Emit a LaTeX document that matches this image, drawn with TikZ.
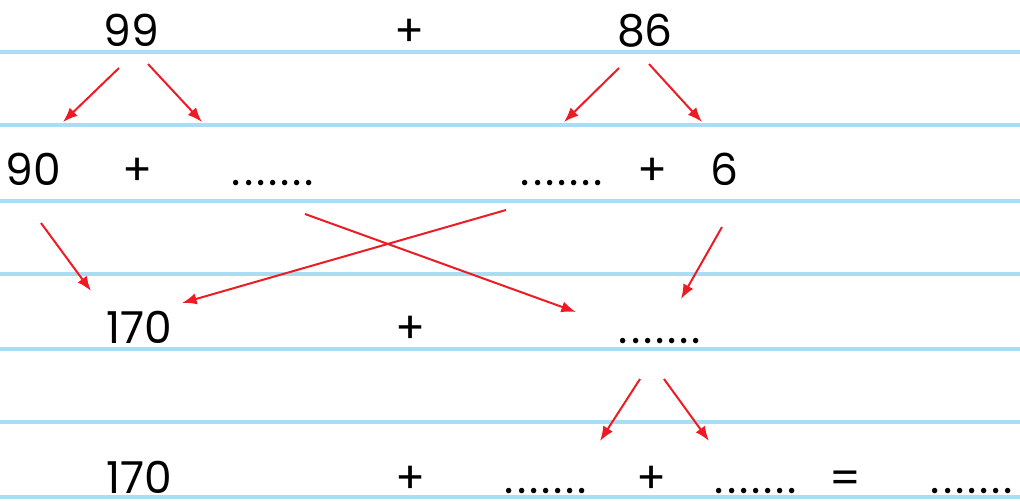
\documentclass[tikz,border=0pt]{standalone}
\usepackage{fontspec}
\setmainfont{Poppins}
\usetikzlibrary{arrows.meta}
\definecolor{rule}{HTML}{A9DDF4}
\definecolor{arr}{HTML}{ED1C24}
\newcommand{\blankdots}{.\kern2.2pt.\kern2.2pt.\kern2.2pt.\kern2.2pt.\kern2.2pt.\kern2.2pt.}
\tikzset{
  ruled/.style={rule, line width=2.3pt},
  txt/.style={anchor=base, inner sep=0pt, text depth=0pt, font=\fontsize{33}{36}\selectfont},
  redarrow/.style={arr, line width=1.5pt, -{Latex[length=11pt,width=8.5pt]}}
}
\begin{document}
\begin{tikzpicture}[x=0.75pt,y=-0.75pt]
\useasboundingbox (0,0) rectangle (1020,500);
% ruled lines
\foreach \yy in {52,125,201,274,349,422,497}
  \draw[ruled] (0,\yy) -- (1020,\yy);
% row 1
\node[txt] (a99) at (131,46) {99};
\node[txt] (p1) at (410,46) {+};
\node[txt] (a86) at (645,46) {86};
% row 2
\node[txt] (b90) at (33,185) {90};
\node[txt] (p2) at (138,185) {+};
\node[txt] (d1) at (273,185) {\blankdots};
\node[txt] (d2) at (562,185) {\blankdots};
\node[txt] (p3) at (653,185) {+};
\node[txt] (b6) at (724,185) {6};
% row 3
\node[txt] (c170) at (139,343) {170};
\node[txt] (p4) at (411,343) {+};
\node[txt] (d3) at (660,343) {\blankdots};
% row 4
\node[txt] (e170) at (139,493) {170};
\node[txt] (p5) at (411,493) {+};
\node[txt] (d4) at (546,493) {\blankdots};
\node[txt] (p6) at (652,493) {+};
\node[txt] (d5) at (756,493) {\blankdots};
\node[txt] (eq) at (845,493) {=};
\node[txt] (d6) at (972,493) {\blankdots};
% arrow end points
\coordinate (s1) at (119,68);  \coordinate (t1) at (63,122);
\coordinate (s2) at (148,64);  \coordinate (t2) at (202,122);
\coordinate (s3) at (619,68);  \coordinate (t3) at (564,122);
\coordinate (s4) at (649,64);  \coordinate (t4) at (702,122);
\coordinate (s5) at (41,223);  \coordinate (t5) at (91,291);
\coordinate (s6) at (506,210); \coordinate (t6) at (182,303);
\coordinate (s7) at (305,214); \coordinate (t7) at (576,312);
\coordinate (s8) at (722,227); \coordinate (t8) at (681,299);
\coordinate (s9) at (640,379); \coordinate (t9) at (600,441);
\coordinate (s10) at (664,379); \coordinate (t10) at (709,441);
\foreach \i in {1,...,10}
  \draw[redarrow] (s\i) -- (t\i);
\end{tikzpicture}
\end{document}
